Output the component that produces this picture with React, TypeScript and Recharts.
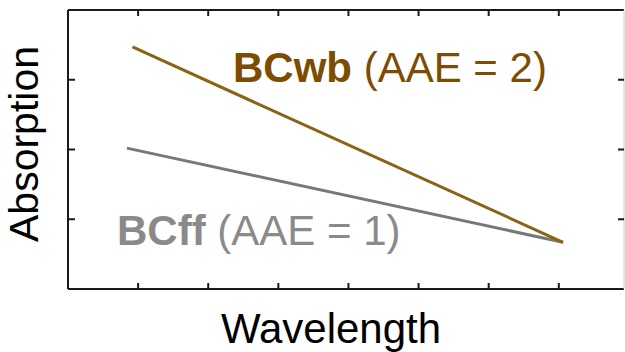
import React from 'react';
import { LineChart, Line, XAxis, YAxis, Customized } from 'recharts';

// Wavelength (arbitrary units) and absorption (arbitrary units)
const wbWavelength = [0.92, 7.06];
const wbAbsorption = [3.47, 0.67];
const ffWavelength = [0.84, 7.06];
const ffAbsorption = [2.02, 0.67];
const xTicks = [1, 2, 3, 4, 5, 6, 7];
const yTicks = [1, 2, 3];
const xDomain: [number, number] = [0, 7.93];
const yDomain: [number, number] = [0, 4];

const wbData = wbWavelength.map((x, i) => ({ x, y: wbAbsorption[i] }));
const ffData = ffWavelength.map((x, i) => ({ x, y: ffAbsorption[i] }));

const FONT = '"Liberation Sans", Arial, Helvetica, sans-serif';
const BROWN_LINE = '#8a6414';
const BROWN_TEXT = '#7d4c00';
const GRAY_LINE = '#787878';
const GRAY_TEXT = '#8a8a8a';
const AXIS = '#1a1a1a';

// inward tick mark drawn from the axis position
const makeTick = (dx: number, dy: number) => (props: any) => (
  <line
    x1={props.x}
    y1={props.y}
    x2={props.x + dx}
    y2={props.y + dy}
    stroke={AXIS}
    strokeWidth={2}
  />
);

const Texts = () => (
  <g fontFamily={FONT}>
    <text x={233} y={82} fontSize={42} fill={BROWN_TEXT}>
      <tspan fontWeight="bold">BCwb</tspan>
      <tspan> (AAE = 2)</tspan>
    </text>
    <text x={117} y={245} fontSize={42} fill={GRAY_TEXT}>
      <tspan fontWeight="bold">BCff</tspan>
      <tspan> (AAE = 1)</tspan>
    </text>
    <text x={331} y={343} fontSize={42} fill="#000" textAnchor="middle">
      Wavelength
    </text>
    <text
      x={0}
      y={0}
      fontSize={41}
      fill="#000"
      textAnchor="middle"
      transform="translate(38,144) rotate(-90)"
    >
      Absorption
    </text>
  </g>
);

export default function App() {
  const axisStroke = { stroke: AXIS, strokeWidth: 2 };
  return (
    <div style={{ position: 'absolute', left: 0, top: 0, width: 625, height: 352, background: '#fff' }}>
      <LineChart
        width={625}
        height={352}
        margin={{ top: 9, right: 0, bottom: 62, left: 67 }}
      >
        <XAxis
          xAxisId="b"
          type="number"
          dataKey="x"
          domain={xDomain}
          ticks={xTicks}
          orientation="bottom"
          height={1}
          tickSize={0}
          tickMargin={0}
          tick={makeTick(0, -6)}
          axisLine={axisStroke}
          tickLine={false}
          allowDataOverflow
        />
        <XAxis
          xAxisId="t"
          type="number"
          dataKey="x"
          domain={xDomain}
          ticks={xTicks}
          orientation="top"
          height={1}
          tickSize={0}
          tickMargin={0}
          tick={makeTick(0, 6)}
          axisLine={axisStroke}
          tickLine={false}
          allowDataOverflow
        />
        <YAxis
          yAxisId="l"
          type="number"
          dataKey="y"
          domain={yDomain}
          ticks={yTicks}
          orientation="left"
          width={1}
          tickSize={0}
          tickMargin={0}
          tick={makeTick(7, 0)}
          axisLine={axisStroke}
          tickLine={false}
          allowDataOverflow
        />
        <YAxis
          yAxisId="r"
          type="number"
          dataKey="y"
          domain={yDomain}
          ticks={yTicks}
          orientation="right"
          width={1}
          tickSize={0}
          tickMargin={0}
          tick={makeTick(-6, 0)}
          axisLine={{ stroke: '#cfcfcf', strokeWidth: 1 }}
          tickLine={false}
          allowDataOverflow
        />
        <Line
          xAxisId="t"
          yAxisId="r"
          data={wbData}
          dataKey="y"
          stroke="none"
          dot={false}
          activeDot={false}
          legendType="none"
          isAnimationActive={false}
        />
        <Line
          xAxisId="b"
          yAxisId="l"
          data={ffData}
          dataKey="y"
          type="linear"
          stroke={GRAY_LINE}
          strokeWidth={3}
          dot={false}
          activeDot={false}
          isAnimationActive={false}
        />
        <Line
          xAxisId="b"
          yAxisId="l"
          data={wbData}
          dataKey="y"
          type="linear"
          stroke={BROWN_LINE}
          strokeWidth={3}
          dot={false}
          activeDot={false}
          isAnimationActive={false}
        />
        <Customized component={Texts} />
      </LineChart>
    </div>
  );
}
